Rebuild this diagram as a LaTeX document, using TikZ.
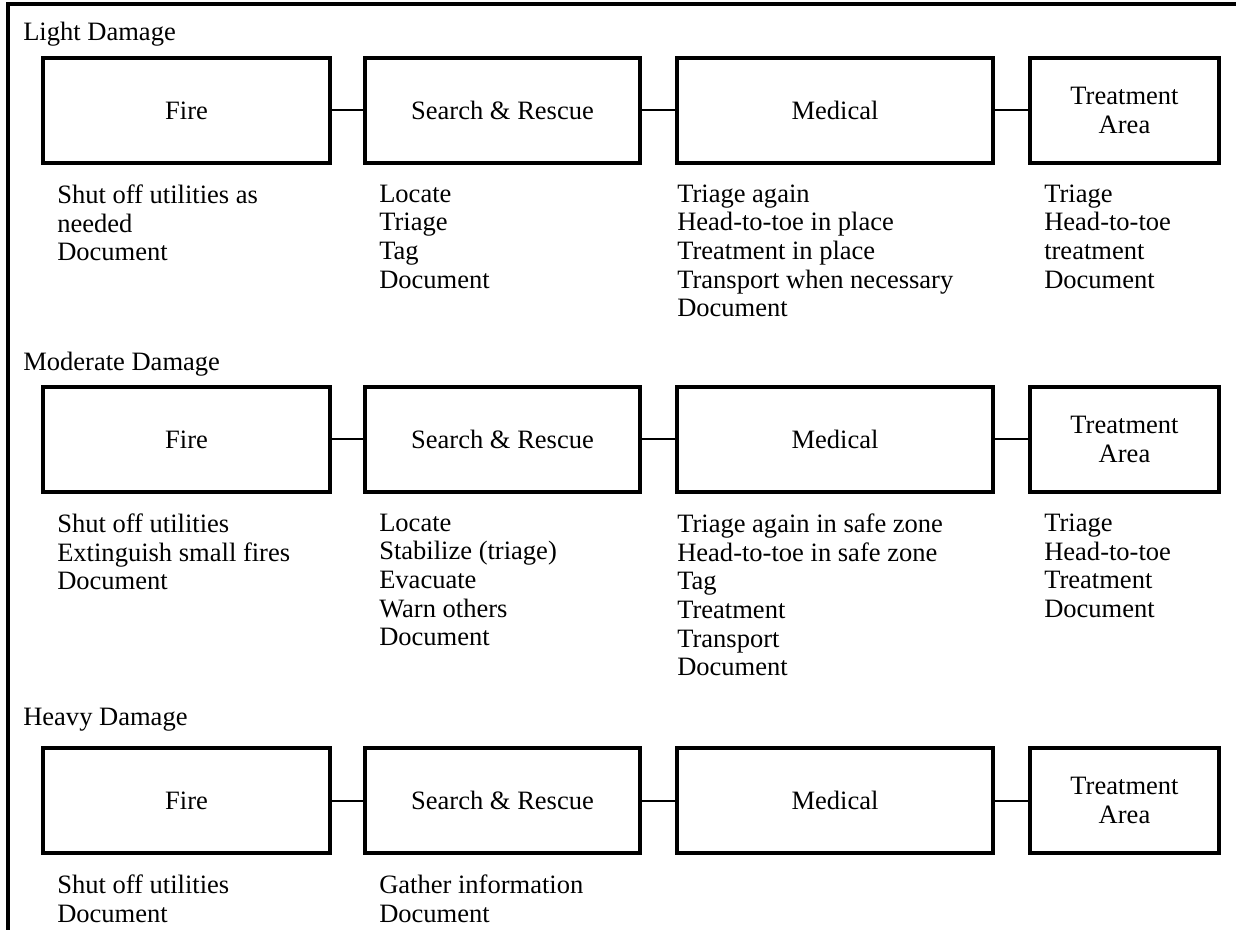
\documentclass[tikz,border=0pt]{standalone}
\usepackage{fontspec}
\setmainfont{Liberation Serif}
\usepackage{tikz}

\begin{document}
\begin{tikzpicture}[
		x=0.75pt, y=-0.75pt,
		every node/.style={font=\fontsize{19.9}{21.5}\selectfont},
		stage/.style={draw, line width=2.3pt, minimum height=78.75pt, inner sep=0pt, align=center},
		link/.style={line width=1.5pt},
		frame/.style={line width=2.4pt},
		tasks/.style={anchor=north west, align=left, inner sep=0pt},
		level/.style={anchor=west, inner sep=0pt}
		]
		\useasboundingbox (0,0) rectangle (1236,930);
		
		% Frame
		\draw[frame] (8,930) -- (8,4) -- (1236,4);
		
		% Light damage
		\node[level] (light) at (23,34) {Light Damage};
		\node[stage, minimum width=215.25pt] (fire1) at (186.5,110.5) {Fire};
		\node[stage, minimum width=206.25pt] (sar1) at (502.5,110.5) {Search \& Rescue};
		\node[stage, minimum width=237pt] (med1) at (835,110.5) {Medical};
		\node[stage, minimum width=141.75pt] (area1) at (1124.5,110.5) {Treatment\\Area};
		\draw[link] (fire1) -- (sar1);
		\draw[link] (sar1) -- (med1);
		\draw[link] (med1) -- (area1);
		\node[tasks] (fire1t) at (57,184.5) {Shut off utilities as\\needed\\Document};
		\node[tasks] (sar1t) at (379,184.5) {Locate\\Triage\\Tag\\Document};
		\node[tasks] (med1t) at (677,184.5) {Triage again\\Head-to-toe in place\\Treatment in place\\Transport when necessary\\Document};
		\node[tasks] (area1t) at (1044,184.5) {Triage\\Head-to-toe\\treatment\\Document};
		
		% Moderate damage
		\node[level] (moderate) at (23,364) {Moderate Damage};
		\node[stage, minimum width=215.25pt] (fire2) at (186.5,439.5) {Fire};
		\node[stage, minimum width=206.25pt] (sar2) at (502.5,439.5) {Search \& Rescue};
		\node[stage, minimum width=237pt] (med2) at (835,439.5) {Medical};
		\node[stage, minimum width=141.75pt] (area2) at (1124.5,439.5) {Treatment\\Area};
		\draw[link] (fire2) -- (sar2);
		\draw[link] (sar2) -- (med2);
		\draw[link] (med2) -- (area2);
		\node[tasks] (fire2t) at (57,513.5) {Shut off utilities\\Extinguish small fires\\Document};
		\node[tasks] (sar2t) at (379,513.5) {Locate\\Stabilize (triage)\\Evacuate\\Warn others\\Document};
		\node[tasks] (med2t) at (677,513.5) {Triage again in safe zone\\Head-to-toe in safe zone\\Tag\\Treatment\\Transport\\Document};
		\node[tasks] (area2t) at (1044,513.5) {Triage\\Head-to-toe\\Treatment\\Document};
		
		% Heavy damage
		\node[level] (heavy) at (23,720) {Heavy Damage};
		\node[stage, minimum width=215.25pt] (fire3) at (186.5,800.5) {Fire};
		\node[stage, minimum width=206.25pt] (sar3) at (502.5,800.5) {Search \& Rescue};
		\node[stage, minimum width=237pt] (med3) at (835,800.5) {Medical};
		\node[stage, minimum width=141.75pt] (area3) at (1124.5,800.5) {Treatment\\Area};
		\draw[link] (fire3) -- (sar3);
		\draw[link] (sar3) -- (med3);
		\draw[link] (med3) -- (area3);
		\node[tasks] (fire3t) at (57,874.5) {Shut off utilities\\Document};
		\node[tasks] (sar3t) at (379,874.5) {Gather information\\Document};
		
	\end{tikzpicture}
\end{document}
